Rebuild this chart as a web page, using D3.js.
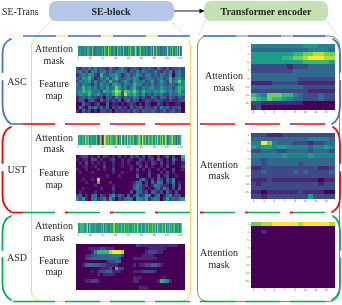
<!DOCTYPE html>
<html><head><meta charset="utf-8"><style>html,body{margin:0;padding:0;background:#fff}svg{display:block}</style>
<script src="https://cdnjs.cloudflare.com/ajax/libs/d3/7.8.5/d3.min.js"></script></head><body><div id="c"></div>
<script>
const headerLabels=["SE-block","Transformer encoder"];
const sceneLabels=["ASC","UST","ASD"];
const stripTicks=[1,16,32,48,64,80,96,112,128];
const gridTicks=[1,3,5,7,9,11,13,15];
const ascStrip="4455474455736654447553445945444637555385564455633745564457445536475544558634567445554575345563845474455334573548354645744645738935";
const ustStrip="4565566648566747565565574625760139846675876657568673659563764685674567484567586395657484765867456758565748465873646574846573645769";
const asdStrip="5556646655468374655565655745565574656545565575846556557565746556557565745586845746557565746557565748556557565846557565567485564757";
const ascMask=["4444444444555444","3333333333344443","5555555566778877","5555556677899988","5555555555666665","2222222122233333","2222222233333333","3333333333333333","3333333332222222","1111222221111111","3333333333222222","2222222222211111","6547776643222322","7657665433222322","2211111111000000","1200000000000000"];
const ustMask=["2221112222222222","3333333333344443","4497433322212233","5455455444434454","2233322333323332","4444445444454444","3323333333333333","3323333332333333","1122222222222112","2232222232322223","2222222222222222","1112111111111011","2122222222222122","2222222222222222","1101111112111100","2212222222252222"];
const asdMask=["7788999998999998","0000000000000000","0010000000000000","0000000000000000","0000000000000000","0000000000000000","0000000000000000","0000000000000000","0000000000000000","0000000000000000","0000000000000000","0000000000000000","0000000000000000","0000000000000000","0000000000000000","0000000000000000"];
const ascFeature=[
"213242423214213421232132321421312232",
"342314423423234431324243224213241342",
"134354216324453134235324423243250342",
"325463124352463234354123432342362453",
"243452423426342353254342352353263574",
"424331425342554243364423242343243254",
"336453424353475342463243453354342465",
"446564342654687376575364435465353463",
"354463453243576285464352324342243354",
"123242212032143132243131132133132132",
"132023103121213024132012212221121123",
"003110120030110101210102100210100110",
"041032413130213120312312213142312230",
"103120102212021212132132232123123120"];
const ustFeature=[
"012201020210102010212020210201302006",
"101102201001200101100210120310103105",
"010201010100100101002101021020102001",
"001100100200100100100202010010200002",
"100100010100200000102010100101002001",
"010001000000100100001000200010201000",
"000000000010001000003000200301200100",
"001001080000000000000241020320314000",
"000100060001000000013302031430214010",
"000000100000100000024312014321103020",
"001000001000200000034210102314202030",
"010000100000100000203312032120310200",
"230103302103513203024125402401341220",
"425103412415202134305435134302523245"];
const asdFeature=[
"000000000000000000002111111111111100",
"000011112211100000000000111111000000",
"000001466668999800000001222110000000",
"000112233333444200000011110000000000",
"000223333333332000011111111000000000",
"000000000012233000000000000000000000",
"001333332211110000010112233210000000",
"000000001112062200000000000000000000",
"000001012233111000011122221000000000",
"000000010111100000000000000000000000",
"000000000000000000011100000001000000",
"000112210000000000011000000165410000",
"000000000000000000000000000000000000",
"000000000000000000000111000000000000"];
const panels=[
 {label:"ASC",strip:ascStrip,feat:ascFeature,mask:ascMask,sy:46,fy:67,hy:44,lab:[48,60,83,95],ly:81,ry:[75,87],rx:224},
 {label:"UST",strip:ustStrip,feat:ustFeature,mask:ustMask,sy:135,fy:155,hy:133,lab:[137,148,172,184],ly:169,ry:[164,175],rx:219},
 {label:"ASD",strip:asdStrip,feat:asdFeature,mask:asdMask,sy:223,fy:244,hy:222,lab:[225,237,260,271],ly:257,ry:[252,264],rx:219}];
const W=342,H=305,serif="'Liberation Serif','Times New Roman',serif",C="#262626";
const svg=d3.select("#c").append("svg").attr("width",W).attr("height",H);
const defs=svg.append("defs");
defs.append("filter").attr("id","b").attr("x","-5%").attr("y","-5%").attr("width","110%").attr("height","110%").append("feGaussianBlur").attr("stdDeviation",0.4);
defs.append("marker").attr("id","ah").attr("viewBox","0 0 6 6").attr("refX",5.5).attr("refY",3).attr("markerWidth",5).attr("markerHeight",5).attr("markerUnits","userSpaceOnUse").attr("orient","auto").append("path").attr("d","M0,0L6,3L0,6Z").attr("fill","#111");
const root=svg.append("g").attr("filter","url(#b)");
const viridis=d=>d3.interpolateViridis(d/9);
const txt=(x,y,s,o={})=>root.append("text").attr("x",x).attr("y",y).attr("text-anchor",o.a||"middle").attr("dominant-baseline","central").attr("font-family",serif).attr("font-size",o.s||10).attr("font-weight",o.w||400).attr("fill",C).text(s);
root.append("rect").attr("x",31.5).attr("y",36).attr("width",159).attr("height",265.5).attr("rx",10).attr("fill","none").attr("stroke","#ffd45e").attr("stroke-width",1);
root.append("rect").attr("x",197.5).attr("y",36).attr("width",142).attr("height",265.5).attr("rx",10).attr("fill","none").attr("stroke","#808080").attr("stroke-width",1);
[[49,125,"#b4c7e7",headerLabels[0],111],[204,124,"#c5e0b4",headerLabels[1],266]].forEach(b=>{
 root.append("rect").attr("x",b[0]).attr("y",1).attr("width",b[1]).attr("height",20).attr("rx",7).attr("fill",b[2]);
 txt(b[4],11,b[3],{w:700,s:10});
});
txt(2,11,"SE-Trans",{a:"start",s:9.8});
root.append("line").attr("x1",174).attr("y1",11).attr("x2",204).attr("y2",11).attr("stroke","#111").attr("stroke-width",1).attr("marker-end","url(#ah)");
[[52,20,36,36],[170,20,186,36],[206,20,198,36],[326,20,338,36]].forEach(l=>root.append("line").attr("x1",l[0]).attr("y1",l[1]).attr("x2",l[2]).attr("y2",l[3]).attr("stroke","#bdbdbd").attr("stroke-width",.7).attr("stroke-dasharray","2 1.5"));
const seg=(x1,x2,y,c)=>root.append("line").attr("x1",x1).attr("x2",x2).attr("y1",y).attr("y2",y).attr("stroke",c).attr("stroke-width",1.6);
const topSpans=[[23,56],[68,101],[113,146],[158,190],[203,236],[248,281],[293,325]];
const spans=[[23,55],[65,100],[110,145],[155,190],[200,235],[245,280],[290,325]];
const col=["#4472c4","#ff0000","#00b050","#00b050"],prev=[null,"#4472c4","#ff0000",null];
[36,124,212.5,301.5].forEach((y,i)=>(i?spans:topSpans).forEach((s,j)=>{
  seg(i===3&&j===0?13:s[0],s[1],y,col[i]);
  if(prev[i]&&j>0)seg(s[0],s[0]+3,y,prev[i]);
}));
const br=(d,c)=>root.append("path").attr("d",d).attr("fill","none").attr("stroke",c).attr("stroke-width",1.8).attr("stroke-linecap","round");
[["#4472c4",39,50,72,81,105,122],["#ff0000",127,140,163,172,197,210],["#00b050",216,228,250,258,285,298]].forEach((a,i)=>{
 const [c,y0,y1,y2,y3,y4,y5]=a;
 br(`M11,${y0}Q2.5,${y0+3} 2.5,${y1+4}L2.5,${y2}M2.5,${y3}L2.5,${y4}Q3,${y5-3} 11,${y5+2}`,c);
 br(`M333,${y0}Q340,${y0+4} 340,${y1+4}L340,${y2}M340,${y3}L340,${y4}Q340,${y5-2} 332,${y5+2}`,c);
 if(i<2)seg(12,23,[124,212.5][i],c);
});
panels.forEach(p=>{
 const g=root.append("g").attr("shape-rendering","crispEdges");
 const sv=Array.from(p.strip,Number);
 const xs=d3.scaleBand().domain(d3.range(1,sv.length+1)).range([77.5,182]);
 g.append("g").selectAll("rect").data(sv).join("rect").attr("x",(d,i)=>xs(i+1)).attr("y",p.sy).attr("width",xs.bandwidth()+.3).attr("height",9.5).attr("fill",viridis);
 const ax=g.append("g").attr("transform",`translate(0,${p.sy+9.5})`).call(d3.axisBottom(xs).tickValues(stripTicks).tickSize(1).tickPadding(.5));
 const nr=p.feat.length,nc=p.feat[0].length;
 const fx=d3.scaleBand().domain(d3.range(nc)).range([76,184]),fy=d3.scaleBand().domain(d3.range(nr)).range([p.fy,p.fy+45]);
 p.feat.forEach((row,r)=>g.append("g").selectAll("rect").data(Array.from(row,Number)).join("rect").attr("x",(d,i)=>fx(i)).attr("y",fy(r)).attr("width",fx.bandwidth()+.5).attr("height",fy.bandwidth()+.5).attr("fill",viridis));
 const hd=d3.range(1,17);
 const hx=d3.scaleBand().domain(hd).range([251,334]),hy=d3.scaleBand().domain(hd).range([p.hy,p.hy+65.5]);
 p.mask.forEach((row,r)=>g.append("g").selectAll("rect").data(Array.from(row,Number)).join("rect").attr("x",(d,i)=>hx(i+1)).attr("y",hy(r+1)).attr("width",hx.bandwidth()+.5).attr("height",hy.bandwidth()+.5).attr("fill",viridis));
 const a2=g.append("g").attr("transform",`translate(0,${p.hy+65.5})`).call(d3.axisBottom(hx).tickValues(gridTicks).tickSize(1.5).tickPadding(.5));
 const a3=g.append("g").attr("transform","translate(251,0)").call(d3.axisLeft(hy).tickValues(gridTicks).tickSize(1.5).tickPadding(.5));
 [ax,a2,a3].forEach(a=>{a.select(".domain").remove();a.selectAll("line").attr("stroke","#777").attr("stroke-width",.4);a.selectAll("text").attr("font-family","'DejaVu Sans',sans-serif").attr("font-size",2.6).attr("fill","#555");});
 txt(54,p.lab[0],"Attention");txt(54,p.lab[1],"mask");txt(54,p.lab[2],"Feature");txt(54,p.lab[3],"map");
 txt(17,p.ly,p.label);txt(p.rx,p.ry[0],"Attention");txt(p.rx,p.ry[1],"mask");
});
</script></body></html>
